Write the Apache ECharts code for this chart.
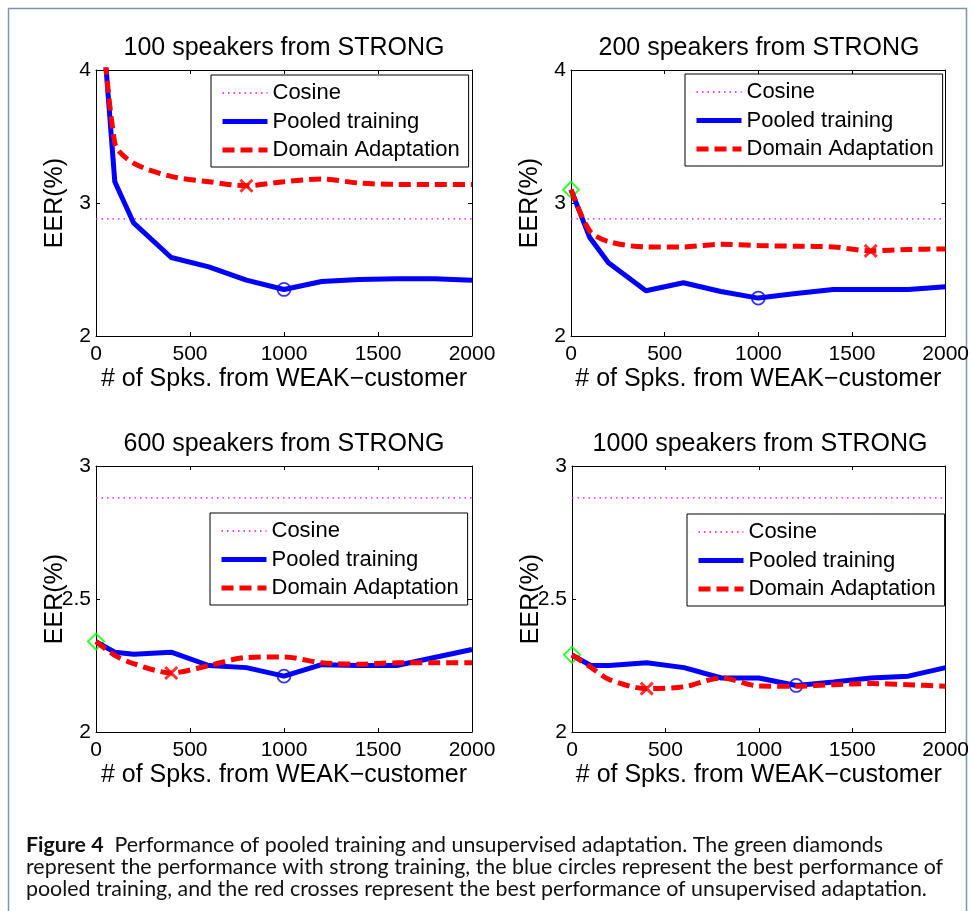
<!DOCTYPE html>
<html>
<head>
<meta charset="utf-8">
<title>Figure 4</title>
<script src="https://cdn.jsdelivr.net/npm/echarts@6/dist/echarts.min.js"></script>
<style>
  html, body { margin: 0; padding: 0; background: #fff; }
  #chart { width: 972px; height: 911px; }
</style>
</head>
<body>
<div id="chart"></div>
<script>
// number of WEAK-customer speakers added (x values)
const spkCounts = [0, 100, 200, 400, 600, 800, 1000, 1200, 1400, 1600, 1800, 2000]
const strongSpeakers = [100, 200, 600, 1000]
const cosineEER = [2.88, 2.88, 2.88, 2.88]

const pooled100 = [5.0, 3.16, 2.85, 2.59, 2.52, 2.42, 2.35, 2.41, 2.425, 2.43, 2.43, 2.42]
const adapt100 = [5.0, 3.45, 3.30, 3.20, 3.16, 3.13, 3.16, 3.18, 3.15, 3.14, 3.14, 3.14]

const pooled200 = [3.10, 2.74, 2.55, 2.34, 2.40, 2.335, 2.285, 2.32, 2.35, 2.35, 2.35, 2.37]
const adapt200 = [3.10, 2.79, 2.71, 2.67, 2.67, 2.69, 2.68, 2.675, 2.67, 2.64, 2.65, 2.655]

const pooled600 = [2.34, 2.30, 2.292, 2.30, 2.25, 2.242, 2.21, 2.253, 2.25, 2.25, 2.28, 2.31]
const adapt600 = [2.34, 2.288, 2.257, 2.222, 2.25, 2.28, 2.282, 2.26, 2.255, 2.26, 2.26, 2.26]

const pooled1000 = [2.29, 2.25, 2.25, 2.26, 2.242, 2.203, 2.203, 2.175, 2.188, 2.203, 2.21, 2.242]
const adapt1000 = [2.29, 2.244, 2.197, 2.163, 2.17, 2.203, 2.173, 2.172, 2.178, 2.182, 2.178, 2.172]

const pooledAll = [pooled100, pooled200, pooled600, pooled1000]
const adaptAll = [adapt100, adapt200, adapt600, adapt1000]

// y axis ranges per panel: [min, max, interval]
const yRanges = [[2, 4, 1], [2, 4, 1], [2, 3, 0.5], [2, 3, 0.5]]

const seriesNames = ['Cosine', 'Pooled training', 'Domain Adaptation']
const xName = '# of Spks. from WEAK\u2212customer'
const yName = 'EER(%)'

const captionLines = [
  '{b|Figure 4}  {n|Performance of pooled training and unsupervised adaptation. The green diamonds}',
  'represent the performance with strong training, the blue circles represent the best performance of',
  'pooled training, and the red crosses represent the best performance of unsupervised adaptation.'
]

const FONT = '"Liberation Sans", Arial, Helvetica, sans-serif'
const CAP_FONT = 'Lato, "Open Sans", sans-serif'

// panel layout
const grids = [
  { left: 96, top: 70, width: 376, height: 266 },
  { left: 571, top: 70, width: 376, height: 266 },
  { left: 96, top: 466, width: 376, height: 266 },
  { left: 572, top: 466, width: 376, height: 266 }
]
const legendBoxes = [[211, 75], [685, 74], [210, 513], [687, 514]]

const argMin = arr => arr.reduce((best, v, i) => (v < arr[best] ? i : best), 0)
const pairs = vals => spkCounts.map((x, j) => [x, vals[j]])

const axisLine = { show: true, onZero: false, lineStyle: { color: '#000', width: 1 } }
const axisTick = { show: true, inside: true, length: 4, lineStyle: { color: '#000', width: 1 } }
const tickLabel = {
  color: '#000', fontFamily: FONT, fontSize: 21,
  showMinLabel: true, showMaxLabel: true,
  formatter: v => String(v)
}
const nameStyle = { color: '#000', fontFamily: FONT, fontSize: 25 }

const xAxis = []
const yAxis = []
grids.forEach((g, i) => {
  const [ymin, ymax, yint] = yRanges[i]
  xAxis.push({
    gridIndex: i, type: 'value', position: 'bottom', min: 0, max: 2000, interval: 500,
    axisLine, axisTick, splitLine: { show: false },
    axisLabel: { ...tickLabel, margin: 8 },
    name: xName, nameLocation: 'middle', nameGap: 31, nameMoveOverlap: false,
    nameTextStyle: nameStyle
  })
  xAxis.push({
    gridIndex: i, type: 'value', position: 'top', min: 0, max: 2000, interval: 500,
    axisLine, axisTick, splitLine: { show: false }, axisLabel: { show: false }
  })
  yAxis.push({
    gridIndex: i, type: 'value', position: 'left', min: ymin, max: ymax, interval: yint,
    axisLine, axisTick, splitLine: { show: false },
    axisLabel: { ...tickLabel, margin: 5 },
    name: yName, nameLocation: 'middle', nameGap: 28, nameMoveOverlap: false,
    nameTextStyle: nameStyle
  })
  yAxis.push({
    gridIndex: i, type: 'value', position: 'right', min: ymin, max: ymax, interval: yint,
    axisLine, axisTick, splitLine: { show: false }, axisLabel: { show: false }
  })
})

const series = []
grids.forEach((g, i) => {
  const axes = { xAxisIndex: i * 2, yAxisIndex: i * 2 }
  const pooled = pooledAll[i]
  const adapt = adaptAll[i]
  series.push({
    name: 'Cosine', type: 'line', ...axes, symbol: 'none', silent: true,
    data: [[0, cosineEER[i]], [2000, cosineEER[i]]],
    itemStyle: { color: '#ff00ff' },
    lineStyle: { color: '#ff00ff', width: 1.3, type: [1.5, 4] }
  })
  series.push({
    name: 'Pooled training', type: 'line', ...axes, symbol: 'none', silent: true,
    data: pairs(pooled),
    itemStyle: { color: '#0000ff' },
    lineStyle: { color: '#0000ff', width: 5 }
  })
  series.push({
    name: 'Domain Adaptation', type: 'line', ...axes, symbol: 'none', silent: true,
    smooth: 0.3,
    data: pairs(adapt),
    itemStyle: { color: '#ff0000' },
    lineStyle: { color: '#ff0000', width: 5, type: [12, 6] }
  })
  const bp = argMin(pooled)
  const ba = argMin(adapt)
  series.push({
    name: 'best pooled', type: 'scatter', ...axes, silent: true,
    symbol: 'circle', symbolSize: 13,
    data: [[spkCounts[bp], pooled[bp]]],
    itemStyle: { color: 'rgba(0,0,0,0)', borderColor: '#0000ff', borderWidth: 1.8 }
  })
  series.push({
    name: 'best adaptation', type: 'scatter', ...axes, silent: true,
    symbol: 'path://M0,0L10,10M10,0L0,10', symbolSize: 12,
    data: [[spkCounts[ba], adapt[ba]]],
    itemStyle: { color: 'rgba(0,0,0,0)', borderColor: '#ff0000', borderWidth: 3 }
  })
  series.push({
    name: 'strong only', type: 'scatter', ...axes, silent: true,
    symbol: 'diamond', symbolSize: 16,
    data: [[spkCounts[0], pooled[0]]],
    itemStyle: { color: 'rgba(0,0,0,0)', borderColor: '#00ff00', borderWidth: 2 }
  })
})

const legend = legendBoxes.map(([left, top]) => ({
  data: seriesNames,
  orient: 'vertical',
  left, top,
  selectedMode: false,
  backgroundColor: '#fff',
  borderColor: '#000',
  borderWidth: 1,
  padding: [7, 9, 6, 9],
  itemGap: 6.5,
  itemWidth: 45,
  itemHeight: 22,
  itemStyle: { opacity: 0 },
  lineStyle: { width: 'inherit' },
  textStyle: { color: '#000', fontFamily: FONT, fontSize: 22, lineHeight: 22 }
}))

const title = grids.map((g, i) => ({
  text: `${strongSpeakers[i]} speakers from STRONG`,
  left: g.left + g.width / 2,
  top: g.top - 34,
  textAlign: 'center',
  padding: 0,
  textStyle: { color: '#000', fontFamily: FONT, fontSize: 25, fontWeight: 'normal' }
}))

// caption size fitted to the width of the second line
const ctx = document.createElement('canvas').getContext('2d')
ctx.font = '20px Lato'
const capSize = Math.round(20 * 917 / ctx.measureText(captionLines[1]).width * 10) / 10

const capStyle = { fontFamily: CAP_FONT, fontSize: capSize, fill: '#111' }
const graphic = [
  {
    type: 'rect', silent: true, z: -10,
    shape: { x: 8.5, y: 8.5, width: 958, height: 960 },
    style: { fill: 'none', stroke: '#7f95b1', lineWidth: 1.5 }
  }
].concat(captionLines.map((line, k) => ({
  type: 'text', silent: true,
  x: 26, y: 845.5 + k * 21.7,
  style: {
    ...capStyle,
    text: line,
    verticalAlign: 'middle',
    rich: {
      b: { fontFamily: CAP_FONT, fontSize: capSize, fontWeight: 'bold', fill: '#111' },
      n: { fontFamily: CAP_FONT, fontSize: capSize, fill: '#111' }
    }
  }
})))

const chart = echarts.init(document.getElementById('chart'))
chart.setOption({
  animation: false,
  backgroundColor: '#fff',
  title,
  legend,
  grid: grids,
  xAxis,
  yAxis,
  series,
  graphic
})
</script>
</body>
</html>
